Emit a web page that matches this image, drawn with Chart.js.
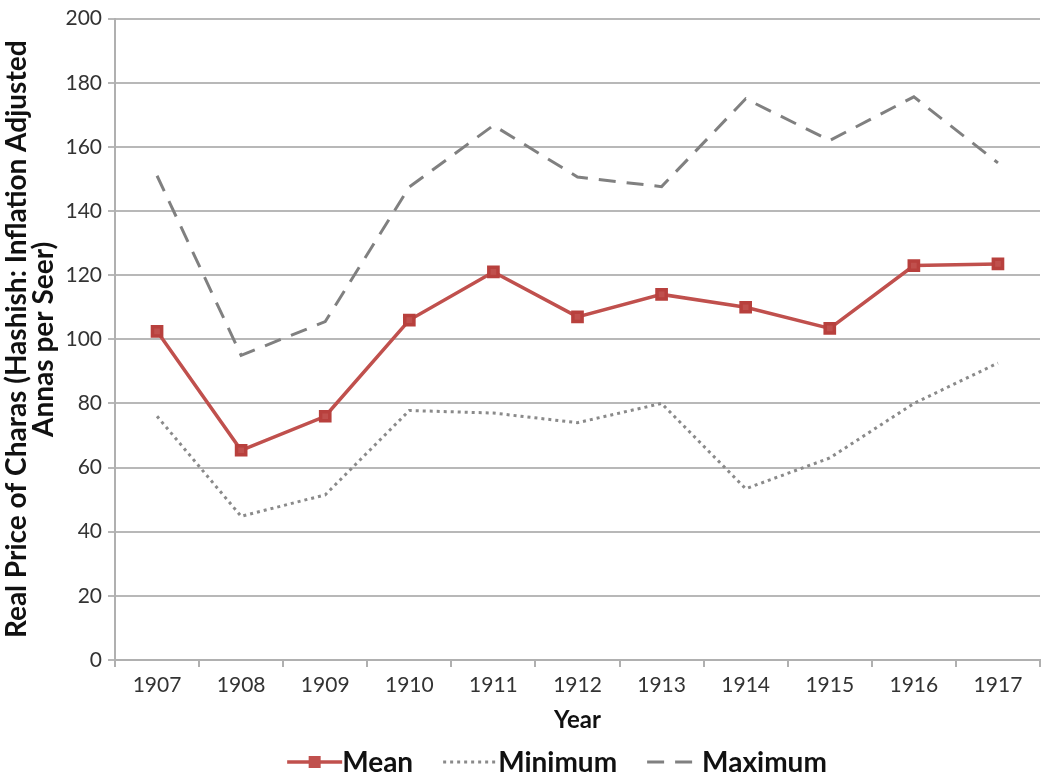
<!DOCTYPE html>
<html><head><meta charset="utf-8">
<script src="https://cdn.jsdelivr.net/npm/chart.js@4/dist/chart.umd.min.js"></script>
<style>html,body{margin:0;padding:0;background:#fff}#wrap{width:1050px;height:782px}</style>
</head><body><div id="wrap"><canvas id="c" width="1050" height="782"></canvas></div>
<script>
const years = ['1907','1908','1909','1910','1911','1912','1913','1914','1915','1916','1917'];
const meanValues = [102.5, 65.4, 76, 106, 121, 107, 114, 110, 103.4, 123, 123.5];
const minValues = [76, 44.8, 51.5, 77.8, 77, 74, 80, 53.4, 63, 80, 92.6];
const maxValues = [151, 95, 105.5, 147.5, 166.7, 150.6, 147.6, 175, 162, 175.6, 155];
const yTicks = [0, 20, 40, 60, 80, 100, 120, 140, 160, 180, 200];

const FONT = 'Lato, "Open Sans", sans-serif';
const legendPlugin = {
  id: 'bottomLegend',
  afterDraw(chart) {
    const ctx = chart.ctx;
    const ds = chart.data.datasets;
    ctx.save();
    ctx.font = 'bold 28px ' + FONT;
    const lineLen = 55, gap = 30;
    const widths = ds.map(d => ctx.measureText(d.label).width);
    const total = widths.reduce((a, w) => a + lineLen + w, 0) + gap * (ds.length - 1);
    let x = 557 - total / 2;
    const y = 762;
    ds.forEach((d, i) => {
      ctx.beginPath();
      ctx.strokeStyle = d.borderColor;
      ctx.lineWidth = d.borderWidth;
      ctx.setLineDash(d.borderDash || []);
      ctx.moveTo(x, y); ctx.lineTo(x + lineLen, y);
      ctx.stroke();
      ctx.setLineDash([]);
      if (d.pointRadius > 0) {
        ctx.fillStyle = d.pointBackgroundColor;
        ctx.fillRect(x + lineLen / 2 - 6, y - 6, 12, 12);
      }
      ctx.fillStyle = '#111';
      ctx.textBaseline = 'middle';
      ctx.textAlign = 'left';
      ctx.fillText(d.label, x + lineLen, y + 1);
      x += lineLen + widths[i] + gap;
    });
    ctx.restore();
  }
};

new Chart(document.getElementById('c'), {
  type: 'line',
  data: {
    labels: years,
    datasets: [
      { label: 'Mean', data: meanValues, borderColor: '#c0504d', backgroundColor: '#c0504d',
        pointBackgroundColor: '#c0504d', pointBorderColor: '#b8403d', pointStyle: 'rect',
        pointRadius: 6.5, borderWidth: 3.5, tension: 0 },
      { label: 'Minimum', data: minValues, borderColor: '#8a8a8a', borderWidth: 3,
        borderDash: [3, 4], pointRadius: 0, tension: 0 },
      { label: 'Maximum', data: maxValues, borderColor: '#808080', borderWidth: 3,
        borderDash: [17, 11], pointRadius: 0, tension: 0 }
    ]
  },
  options: {
    responsive: false,
    animation: false,
    layout: { padding: { left: 0, right: 2, top: 12, bottom: 42 } },
    plugins: { legend: { display: false }, tooltip: { enabled: false } },
    scales: {
      x: {
        offset: true,
        grid: { offset: true, drawOnChartArea: false, drawTicks: true, tickLength: 7, color: '#b0b0b0', lineWidth: 2 },
        border: { color: '#b0b0b0', width: 2 },
        ticks: { color: '#333', font: { family: FONT, size: 21 }, padding: 6, maxRotation: 0 },
        title: { display: true, text: 'Year', color: '#111', font: { family: FONT, size: 24, weight: 'bold' }, padding: { top: 0, bottom: 5 } },
        afterFit(s) { s.height = 80; }
      },
      y: {
        min: 0, max: 200,
        afterBuildTicks(s) { s.ticks = yTicks.map(v => ({ value: v })); },
        grid: { color: '#b8b8b8', lineWidth: 2, tickLength: 7 },
        border: { color: '#b0b0b0', width: 2 },
        ticks: { color: '#333', font: { family: FONT, size: 21 }, padding: 6 },
        title: { display: true, text: ['Real Price of Charas (Hashish: Inflation Adjusted', 'Annas per Seer)'],
          color: '#111', font: { family: FONT, size: 28, weight: 'bold', lineHeight: 0.97 }, padding: { top: 3, bottom: 0 } },
        afterFit(s) { s.width = 115; }
      }
    }
  },
  plugins: [legendPlugin]
});
</script></body></html>
